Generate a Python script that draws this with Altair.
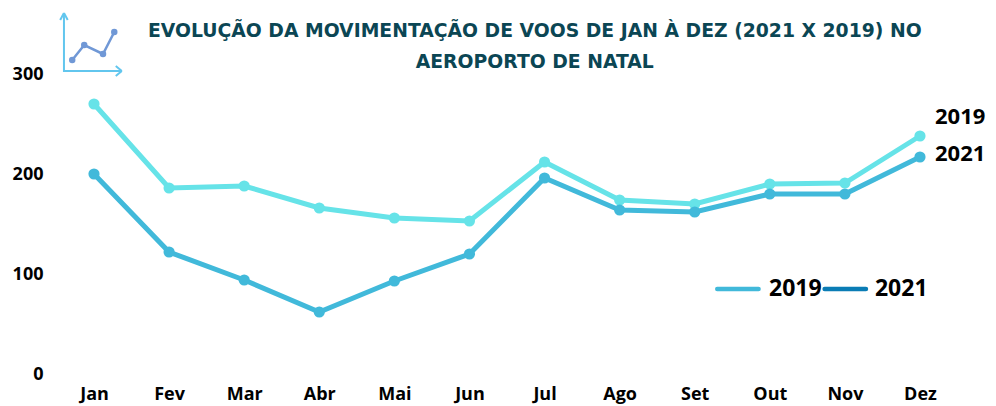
import altair as alt
import pandas as pd

months = ["Jan","Fev","Mar","Abr","Mai","Jun","Jul","Ago","Set","Out","Nov","Dez"]
v2019 = [270,186,188,166,156,153,212,174,170,190,191,238]
v2021 = [200,122,94,62,93,120,196,164,162,180,180,217]

title_lines = ["EVOLUÇÃO DA MOVIMENTAÇÃO DE VOOS DE JAN À DEZ (2021 X 2019) NO", "AEROPORTO DE NATAL"]
title_x = [5.87, 5.87]
title_y = [343, 312]

C19, C21, CLEG = "#66e3e8", "#41b9da", "#0a7cb5"
FONT = "Open Sans"
PXU = 75.09
W, H = 938, 365
XMIN = -44 / PXU
XMAX = XMIN + W / PXU
x_scale = alt.Scale(domain=[XMIN, XMAX], nice=False, zero=False)
y_scale = alt.Scale(domain=[0, H], nice=False)

idx = list(range(12))
df19 = pd.DataFrame({"i": idx, "v": v2019})
df21 = pd.DataFrame({"i": idx, "v": v2021})

label_expr = "[" + ",".join(f"'{m}'" for m in months) + "][datum.value]"
X = alt.X("i:Q", scale=x_scale, title=None,
          axis=alt.Axis(values=idx, labelExpr=label_expr, grid=False, domain=False, ticks=False,
                        labelFont=FONT, labelFontSize=18, labelFontWeight=700, labelColor="#000000",
                        labelPadding=11, labelFlush=False, labelOverlap=False))
Y = alt.Y("v:Q", scale=y_scale, title=None,
          axis=alt.Axis(values=[0,100,200,300], grid=False, domain=False, ticks=False,
                        labelFont=FONT, labelFontSize=18, labelFontWeight=700, labelColor="#000000",
                        labelPadding=7, labelFlush=False))

def series(df, color):
    return [
        alt.Chart(df).mark_line(color=color, strokeWidth=5, clip=False).encode(x=X, y=Y),
        alt.Chart(df).mark_point(color=color, filled=True, opacity=1, size=125, clip=False).encode(x=X, y=Y),
    ]

def xq(f): return alt.X(f, type="quantitative", scale=x_scale, title=None)
def yq(f): return alt.Y(f, type="quantitative", scale=y_scale, title=None)

dl = pd.DataFrame({"t": ["2019","2021"], "i": [11.2, 11.2], "v": [257, 220]})
direct = alt.Chart(dl).mark_text(font=FONT, fontSize=22, fontWeight=700, color="#000000", align="left", baseline="middle").encode(
    x=xq("i"), y=yq("v"), text="t:N")

lt = pd.DataFrame({"t": ["2019","2021"], "i": [8.99, 10.4], "v": [85, 85]})
legend_text = alt.Chart(lt).mark_text(font=FONT, fontSize=23, fontWeight=700, color="#000000", align="left", baseline="middle").encode(
    x=xq("i"), y=yq("v"), text="t:N")
ll = pd.DataFrame({"a": [8.3, 9.73], "b": [8.85, 10.28], "v": [85, 85], "c": [C21, CLEG]})
legend_lines = alt.Chart(ll).mark_rule(strokeWidth=4.5, strokeCap="round").encode(
    x=xq("a"), x2="b:Q", y=yq("v"), color=alt.Color("c:N", scale=None))

tl = pd.DataFrame({"t": title_lines, "i": title_x, "v": title_y})
title = alt.Chart(tl).mark_text(font="DejaVu Sans", fontSize=18.8, fontWeight=700, color="#0b4654", align="center", baseline="middle").encode(
    x=xq("i"), y=yq("v"), text="t:N")

icon_axis_x = [-0.40, -0.40, 0.37]
icon_axis_y = [361, 303, 303]
icon_line_x = [-0.29, -0.13, 0.12, 0.27]
icon_line_y = [314, 329, 320, 342]
ax = pd.DataFrame({"i": icon_axis_x, "v": icon_axis_y, "o": [0,1,2]})
ia = alt.Chart(ax).mark_line(color="#62c6ee", strokeWidth=2).encode(x=xq("i"), y=yq("v"), order="o:Q")
hx = pd.DataFrame({"a": [-0.40, -0.40, 0.37, 0.37], "b": [-0.45, -0.35, 0.29, 0.29],
                   "v": [361, 361, 303, 303], "w": [354, 354, 298, 308]})
ih = alt.Chart(hx).mark_rule(color="#62c6ee", strokeWidth=2).encode(x=xq("a"), x2="b:Q", y=yq("v"), y2="w:Q")
il = pd.DataFrame({"i": icon_line_x, "v": icon_line_y, "o": [0,1,2,3]})
ic = alt.Chart(il).mark_line(color="#7098d6", strokeWidth=2.5).encode(x=xq("i"), y=yq("v"), order="o:Q")
ip = alt.Chart(il).mark_point(color="#7098d6", filled=True, opacity=1, size=42).encode(x=xq("i"), y=yq("v"))

chart = alt.layer(
    *series(df19, C19), *series(df21, C21),
    ia, ih, ic, ip, title,
    direct, legend_lines, legend_text,
).properties(
    width=W, height=H,
    padding={"left": 42, "top": 1, "right": 0, "bottom": 31},
    autosize=alt.AutoSizeParams(type="none", contains="content"),
    background="#ffffff",
).configure_view(stroke=None)

chart.save("out.html", embed_options={"renderer": "svg", "actions": False})
